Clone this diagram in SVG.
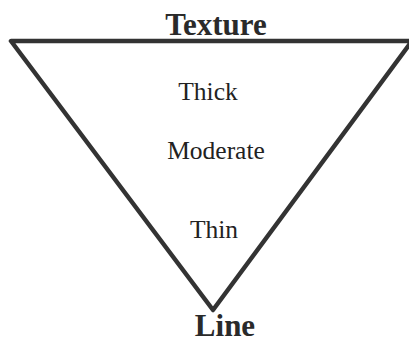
<svg xmlns="http://www.w3.org/2000/svg" width="409" height="343" viewBox="0 0 409 343">
<style>
.edge{fill:none;stroke:#333;stroke-width:4.5;stroke-linejoin:round;stroke-linecap:round}
.t{font-family:"Liberation Serif","Times New Roman",serif;fill:#222;text-anchor:middle}
.b{font-weight:bold;font-size:31px;fill:#2a2a2a}
.r{font-size:25.5px}
</style>
<rect width="409" height="343" fill="#fff"/>
<g id="connectors">
<polygon class="edge" points="11,41 412,41 213,310"/>
</g>
<g id="texture"><text class="t b" x="216" y="35">Texture</text></g>
<g id="thick"><text class="t r" x="208" y="100">Thick</text></g>
<g id="moderate"><text class="t r" x="216" y="159">Moderate</text></g>
<g id="thin"><text class="t r" x="214" y="238">Thin</text></g>
<g id="line"><text class="t b" x="225" y="336" font-size="30">Line</text></g>
</svg>
